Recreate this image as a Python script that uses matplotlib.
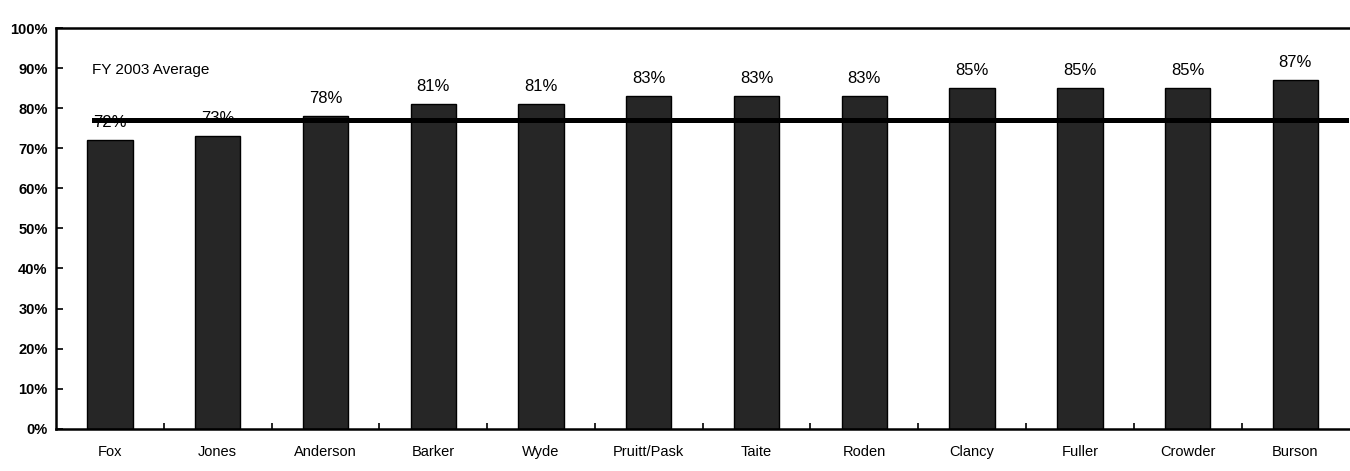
import matplotlib.pyplot as plt
import numpy as np

plt.rcParams['font.family'] = ['Liberation Sans', 'DejaVu Sans']

names = ['Fox', 'Jones', 'Anderson', 'Barker', 'Wyde', 'Pruitt/Pask',
         'Taite', 'Roden', 'Clancy', 'Fuller', 'Crowder', 'Burson']
scores = [72, 73, 78, 81, 81, 83, 83, 83, 85, 85, 85, 87]
fy2003_avg = 77

fig = plt.figure(figsize=(13.5, 4.71), dpi=100)
ax = fig.add_axes([0.0415, 0.09, 0.958, 0.85])

x = np.arange(len(names))
ax.bar(x, scores, width=0.42, color='#262626', edgecolor='black', linewidth=1)

for xi, v in zip(x, scores):
    ax.text(xi, v + 2.6, f'{v}%', ha='center', va='bottom', fontsize=12)

# average line across all bars
ax.plot([-0.15, len(names) - 0.5], [fy2003_avg, fy2003_avg], color='black', lw=3.6)
ax.text(-0.17, 89.5, 'FY 2003 Average', ha='left', va='center', fontsize=11)

ax.set_xlim(-0.5, len(names) - 0.5)
ax.set_ylim(0, 100)
ax.set_yticks(range(0, 101, 10))
ax.set_yticklabels([f'{t}%' for t in range(0, 101, 10)], fontsize=10.5, fontweight='bold')
ax.set_xticks(x)
ax.set_xticklabels(names, fontsize=10.5)
ax.set_xticks(x[:-1] + 0.5, minor=True)
ax.tick_params(axis='x', which='major', length=0, pad=12)
ax.tick_params(axis='x', which='minor', direction='in', length=4, width=1.2)
ax.tick_params(axis='y', direction='in', length=5, width=1.2, pad=6)

ax.spines['right'].set_visible(False)
for s in ['left', 'bottom', 'top']:
    ax.spines[s].set_linewidth(1.8)

fig.savefig('out.png', dpi=100)
